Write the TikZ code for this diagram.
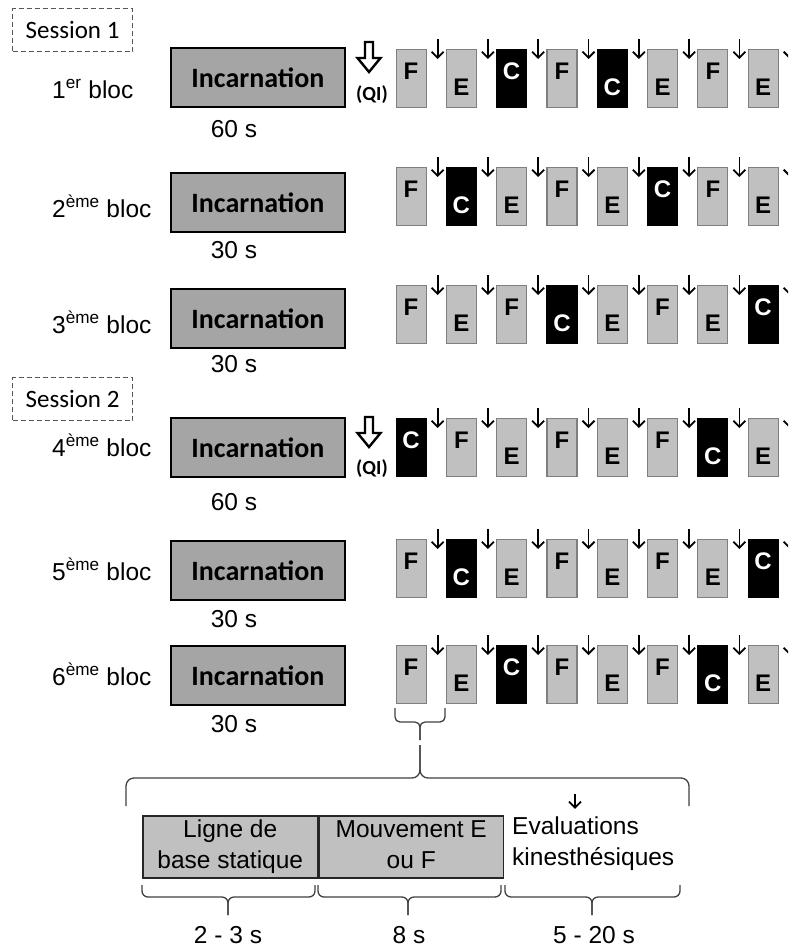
\documentclass[tikz,border=0pt]{standalone}
\usepackage{fontspec}
\setmainfont{Liberation Sans}
\newfontfamily\calibfont{Carlito}
\usetikzlibrary{arrows.meta}
\definecolor{trialfill}{HTML}{C0C0C0}
\definecolor{trialedge}{HTML}{7F7F7F}
\definecolor{incfill}{HTML}{A5A5A5}
\definecolor{sessedge}{HTML}{555555}
\definecolor{braceline}{HTML}{404040}
\newcommand\txtfs{\fontsize{24.5}{31}\selectfont}
\newcommand\trialrow[3]{%
  \foreach \L/\P [count=\i from 0] in {#3} {%
    \pgfmathsetmacro\xx{395.5+50.3*\i}%
    \node[trial\L] (r#1b\i) at (\xx,#2) {};
    \node[letter, lt\L, lp\P] (r#1t\i) at (r#1b\i.center) {\L};
    \draw[sarrow] ([xshift=11pt,yshift=10pt]r#1b\i.north east) -- ([xshift=11pt,yshift=-10pt]r#1b\i.north east);
  }%
}
\newcommand\qiarrow[2]{%
  \draw[qiarr, shift={(#1,#2)}] (-4,0) -- (4,0) -- (4,16) -- (11.5,16) -- (0,30) -- (-11.5,16) -- (-4,16) -- cycle;%
}
\newcommand\bracepath[7]{% radius, x1, x2, xm, y0, y1, y2
  \draw[braceln, rounded corners=#1] (#2,#5) -- (#2,#6) -- (#4,#6) -- (#4,#7);
  \draw[braceln, rounded corners=#1] (#3,#5) -- (#3,#6) -- (#4,#6) -- (#4,#7);
}
\begin{document}
\begin{tikzpicture}[x=1pt,y=-1pt,
  trialbase/.style={line width=1.1pt, minimum width=30pt, minimum height=58pt, inner sep=0pt, anchor=north west},
  trialF/.style={trialbase, draw=trialedge, fill=trialfill},
  trialE/.style={trialbase, draw=trialedge, fill=trialfill},
  trialC/.style={trialbase, draw=black, fill=black},
  letter/.style={font=\fontsize{24}{24}\selectfont\bfseries, inner sep=0pt},
  ltF/.style={text=black}, ltE/.style={text=black}, ltC/.style={text=white},
  lpt/.style={yshift=7pt}, lpb/.style={yshift=-9pt},
  sarrow/.style={-{Straight Barb[length=6pt,width=12pt]}, line width=1.8pt},
  qiarr/.style={draw=black, fill=white, line width=2.4pt, line join=miter},
  inc/.style={draw=black, fill=incfill, line width=1.8pt, minimum width=174pt, minimum height=59pt, inner sep=0pt, anchor=north west, font=\calibfont\fontsize{28}{28}\selectfont\bfseries},
  blk/.style={anchor=base west, inner sep=0pt, font=\txtfs},
  dur/.style={anchor=base, inner sep=0pt, font=\txtfs},
  sess/.style={draw=sessedge, dash pattern=on 5pt off 3pt, line width=1.1pt, minimum width=120pt, minimum height=43pt, inner sep=0pt, anchor=north west, font=\calibfont\fontsize{25}{25}\selectfont},
  qi/.style={inner sep=0pt, font=\calibfont\fontsize{20}{20}\selectfont\bfseries},
  bbox/.style={draw=black!85, fill=trialfill, line width=1.5pt, minimum height=62pt, inner sep=0pt, anchor=north west, align=center, font=\txtfs},
  braceln/.style={draw=braceline, line width=1.3pt},
]
\useasboundingbox (0,0) rectangle (788,948);
\clip (0,0) rectangle (788,948);

% sessions
\node[sess] (s1) at (12,8) {Session 1};
\node[sess] (s2) at (12,377) {Session 2};

% block labels
\node[blk] (l1) at (52,98) {1\textsuperscript{er} bloc};
\node[blk] (l2) at (52,217) {2\textsuperscript{ème} bloc};
\node[blk] (l3) at (52,333) {3\textsuperscript{ème} bloc};
\node[blk] (l4) at (52,456) {4\textsuperscript{ème} bloc};
\node[blk] (l5) at (52,580) {5\textsuperscript{ème} bloc};
\node[blk] (l6) at (52,685) {6\textsuperscript{ème} bloc};

% incarnation boxes
\node[inc] (i1) at (170,47) {Incarnation};
\node[inc] (i2) at (170,172) {Incarnation};
\node[inc] (i3) at (170,288) {Incarnation};
\node[inc] (i4) at (170,417) {Incarnation};
\node[inc] (i5) at (170,540) {Incarnation};
\node[inc] (i6) at (170,645) {Incarnation};

% durations
\node[dur] (d1) at (234,137) {60 s};
\node[dur] (d2) at (234,258) {30 s};
\node[dur] (d3) at (234,372) {30 s};
\node[dur] (d4) at (234,510) {60 s};
\node[dur] (d5) at (234,627) {30 s};
\node[dur] (d6) at (234,732) {30 s};

% QI arrows
\qiarrow{369}{42}
\node[qi] (q1) at (372,95) {(QI)};
\qiarrow{369}{417}
\node[qi] (q4) at (372,469) {(QI)};

% trial rows
\trialrow{1}{49}{F/t,E/b,C/t,F/t,C/b,E/b,F/t,E/b}
\trialrow{2}{167}{F/t,C/b,E/b,F/t,E/b,C/t,F/t,E/b}
\trialrow{3}{285}{F/t,E/b,F/t,C/b,E/b,F/t,E/b,C/t}
\trialrow{4}{418}{C/t,F/t,E/b,F/t,E/b,F/t,C/b,E/b}
\trialrow{5}{539}{F/t,C/b,E/b,F/t,E/b,F/t,E/b,C/t}
\trialrow{6}{645}{F/t,E/b,C/t,F/t,E/b,F/t,C/b,E/b}

% braces
\bracepath{5pt}{395}{445}{420}{708}{722}{740}
\bracepath{8pt}{126}{689}{420}{806}{778}{745}

% bottom detail
\node[bbox, minimum width=175pt] (lb) at (142,815) {Ligne de\\base statique};
\node[bbox, minimum width=184pt] (mv) at (lb.north east) {Mouvement E\\ou F\vphantom{q}};
\node[anchor=west, inner sep=0pt, align=left, font=\txtfs] (ev) at (512,844) {Evaluations\\kinesthésiques};
\draw[sarrow] ([xshift=63pt,yshift=23pt]ev.north west) -- ([xshift=63pt,yshift=8pt]ev.north west);

\bracepath{6pt}{142}{315}{228}{885}{897}{915}
\bracepath{6pt}{318}{501}{408}{885}{897}{915}
\bracepath{6pt}{505}{680}{592}{885}{897}{915}

\node[dur] (t1) at (228,943) {2 - 3 s};
\node[dur] (t2) at (409,943) {8 s};
\node[dur] (t3) at (594,943) {5 - 20 s};
\end{tikzpicture}
\end{document}
